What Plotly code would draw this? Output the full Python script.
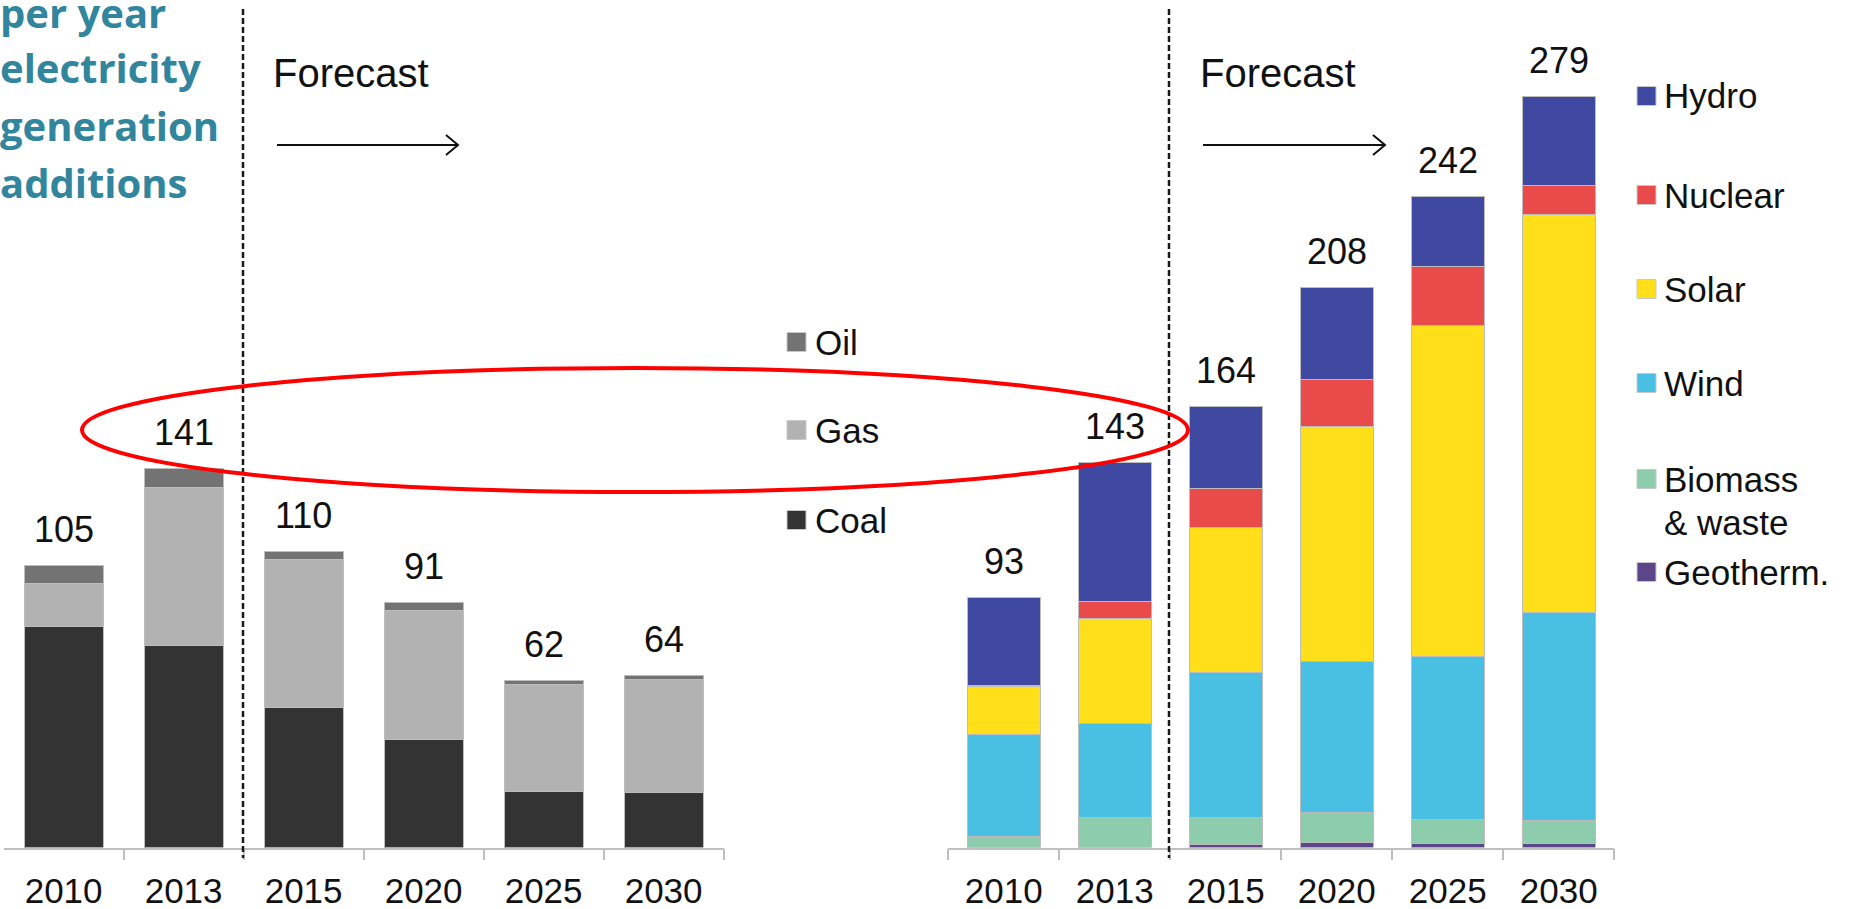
import plotly.graph_objects as go

W, H = 1854, 909

# ---------------- data ----------------
YEARS = ["2010", "2013", "2015", "2020", "2025", "2030"]

COAL = [82, 75, 52, 40, 21, 20.5]
GAS = [16, 59, 55, 48, 39.5, 42]
OIL = [7, 7, 3, 3, 1.5, 1.5]
FOSSIL_TOTAL = [105, 141, 110, 91, 62, 64]

GEOTHERM = [0, 0, 1, 2, 1.5, 1.5]
BIOMASS = [4, 11, 10, 11, 9, 8.5]
WIND = [38, 35, 54, 56, 60.5, 77.5]
SOLAR = [18, 39, 54, 87.5, 123, 148]
NUCLEAR = [0.4, 6.5, 14.5, 17.5, 22, 10.5]
HYDRO = [32.6, 51.5, 30.5, 34, 26, 33]
CLEAN_TOTAL = [93, 143, 164, 208, 242, 279]

TITLE_LINES = ["per year", "electricity", "generation", "additions"]
FORECAST_LABEL = "Forecast"

LEFT_LEGEND = ["Oil", "Gas", "Coal"]
RIGHT_LEGEND = ["Hydro", "Nuclear", "Solar", "Wind", "Biomass", "& waste", "Geotherm."]

# ---------------- styles ----------------
C = {
    "Coal": "#333333", "Gas": "#B2B2B2", "Oil": "#737373",
    "Hydro": "#3F49A1", "Nuclear": "#E94B4B", "Solar": "#FEDF1A",
    "Wind": "#4ABFE4", "Biomass": "#8DCDAD", "Geotherm.": "#5C4589",
}
FONT = "Arial, Liberation Sans, sans-serif"
TEAL = "#31859C"

POS = list(range(len(YEARS)))
BOUNDS = [p - 0.5 for p in POS] + [POS[-1] + 0.5]


def px(x):
    return x / W


def py(y):
    return 1 - y / H


fig = go.Figure()

left_series = [("Coal", COAL), ("Gas", GAS), ("Oil", OIL)]
right_series = [("Geotherm.", GEOTHERM), ("Biomass", BIOMASS), ("Wind", WIND),
                ("Solar", SOLAR), ("Nuclear", NUCLEAR), ("Hydro", HYDRO)]

for name, vals in left_series:
    fig.add_trace(go.Bar(x=POS, y=vals, name=name, xaxis="x", yaxis="y",
                         marker=dict(color=C[name], line=dict(color="#BDBDBD", width=1)),
                         hoverinfo="skip", showlegend=False))
for name, vals in right_series:
    fig.add_trace(go.Bar(x=POS, y=vals, name=name, xaxis="x2", yaxis="y2",
                         marker=dict(color=C[name], line=dict(color="#BDBDBD", width=1)),
                         hoverinfo="skip", showlegend=False))

BASE = 847.5
SCALE = 2.69
y0 = (H - BASE) / H
ymax = BASE / SCALE


def xaxis_style(minor_vals):
    return dict(type="linear", range=[BOUNDS[0], BOUNDS[-1]], automargin=False,
                showline=True, linecolor="#BFBFBF", linewidth=1.5,
                tickmode="array", tickvals=POS, ticktext=YEARS, ticks="",
                minor=dict(tickmode="array", tickvals=minor_vals, ticks="outside", ticklen=11,
                           tickcolor="#BFBFBF", tickwidth=1.5, showgrid=False),
                showgrid=False, zeroline=False, tickangle=0,
                tickfont=dict(family=FONT, size=35, color="#111111"),
                ticklabelstandoff=12, fixedrange=True)


yaxis_common = dict(range=[0, ymax], domain=[y0, 1], visible=False, fixedrange=True,
                    automargin=False)

fig.update_layout(
    width=W, height=H, margin=dict(l=0, r=0, t=0, b=0, pad=0, autoexpand=False),
    paper_bgcolor="white", plot_bgcolor="rgba(0,0,0,0)",
    barmode="stack", bargap=0.34, showlegend=False,
    xaxis=dict(domain=[px(3.6), px(723.6)], anchor="y", **xaxis_style(BOUNDS[1:])),
    xaxis2=dict(domain=[px(948.3), px(1614.3)], anchor="y2", **xaxis_style(BOUNDS)),
    yaxis=dict(anchor="x", **yaxis_common),
    yaxis2=dict(anchor="x2", **yaxis_common),
)

ann = []
# totals
for xr, yr, totals in [("x", "y", FOSSIL_TOTAL), ("x2", "y2", CLEAN_TOTAL)]:
    for p, t in zip(POS, totals):
        ann.append(dict(x=p, y=t, xref=xr, yref=yr, text=str(t), showarrow=False,
                        yanchor="middle", yshift=36,
                        font=dict(family=FONT, size=36, color="#111111")))

# title lines (cropped at top)
title_centers = [12, 68, 125, 182]
for t, yc in zip(TITLE_LINES, title_centers):
    ann.append(dict(x=px(-2), y=py(yc), xref="paper", yref="paper", text="<b>%s</b>" % t,
                    showarrow=False, xanchor="left", yanchor="middle",
                    font=dict(family="Open Sans, sans-serif", size=40, color=TEAL)))

# forecast labels
for xl in [273, 1200]:
    ann.append(dict(x=px(xl - 2), y=py(73), xref="paper", yref="paper", text=FORECAST_LABEL,
                    showarrow=False, xanchor="left", yanchor="middle",
                    font=dict(family=FONT, size=40, color="#111111")))

shapes = []
# dashed separators
for xd in [243, 1169]:
    shapes.append(dict(type="line", xref="paper", yref="paper", x0=px(xd), x1=px(xd),
                       y0=py(9), y1=py(858), line=dict(color="#1A1A1A", width=2.5, dash="6px,3px")))
# forecast arrows
for xa0, xa1 in [(277, 458), (1203, 1385)]:
    yA = 145
    shapes.append(dict(type="line", xref="paper", yref="paper", x0=px(xa0), x1=px(xa1),
                       y0=py(yA), y1=py(yA), line=dict(color="#111111", width=2)))
    path = "M %f,%f L %f,%f L %f,%f" % (px(xa1 - 12), py(yA - 10), px(xa1), py(yA),
                                         px(xa1 - 12), py(yA + 10))
    shapes.append(dict(type="path", xref="paper", yref="paper", path=path,
                       line=dict(color="#111111", width=2)))

# legends
left_legend_y = [342, 430, 520]
for name, yc in zip(LEFT_LEGEND, left_legend_y):
    shapes.append(dict(type="rect", xref="paper", yref="paper", x0=px(787), x1=px(806),
                       y0=py(yc - 9.5), y1=py(yc + 9.5), fillcolor=C[name],
                       line=dict(color="#C8C8C8", width=1)))
    ann.append(dict(x=px(813), y=py(yc), xref="paper", yref="paper", text=name,
                    showarrow=False, xanchor="left", yanchor="middle",
                    font=dict(family=FONT, size=35, color="#111111")))

right_legend_y = [96, 195, 289, 383, 479, 522, 572]
for name, yc in zip(RIGHT_LEGEND, right_legend_y):
    if name in C:
        shapes.append(dict(type="rect", xref="paper", yref="paper", x0=px(1637), x1=px(1656),
                           y0=py(yc - 9.5), y1=py(yc + 9.5), fillcolor=C[name],
                           line=dict(color="#C8C8C8", width=1)))
    ann.append(dict(x=px(1662), y=py(yc), xref="paper", yref="paper", text=name,
                    showarrow=False, xanchor="left", yanchor="middle",
                    font=dict(family=FONT, size=35, color="#111111")))

# red highlight ellipse
shapes.append(dict(type="circle", xref="paper", yref="paper", x0=px(82), x1=px(1188),
                   y0=py(368), y1=py(492), line=dict(color="#FF0000", width=4), layer="above"))

fig.update_layout(annotations=ann, shapes=shapes)
fig.write_html("out.html")
